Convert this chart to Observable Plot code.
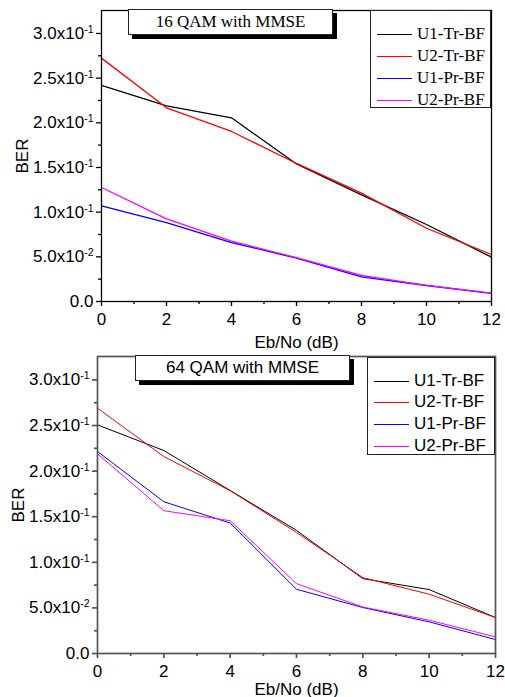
<!DOCTYPE html>
<html>
<head>
<meta charset="utf-8">
<script src="https://cdn.jsdelivr.net/npm/d3@7"></script>
<script src="https://cdn.jsdelivr.net/npm/@observablehq/plot@0.6"></script>
<style>
  html, body { margin: 0; padding: 0; background: #fff; }
  #wrap { position: relative; width: 505px; height: 697px; overflow: hidden; }
  .panel { position: absolute; left: 0; }
  .titlebox { position: absolute; background: #fff; border: 1px solid #222; box-shadow: 4px 4px 0 #000;
              text-align: center; box-sizing: border-box; font-size: 17px; color: #000; }
  .legend { position: absolute; background: #fff; border: 1px solid #222; box-sizing: border-box; }
  .legend .row { position: absolute; left: 0; height: 20px; display: flex; align-items: center; font-size: 17px; white-space: nowrap; }
  .legend .sw { display: inline-block; width: 35px; height: 0; margin-right: 5px; }
</style>
</head>
<body>
<div id="wrap"></div>
<script>
// ---------------- data ----------------
const ebno = [0, 2, 4, 6, 8, 10, 12];
const seriesNames = ["U1-Tr-BF", "U2-Tr-BF", "U1-Pr-BF", "U2-Pr-BF"];
const seriesColors = ["#000000", "#ff0000", "#0000ff", "#ff00ff"];

const qam16_U1Tr = [0.2420, 0.2190, 0.2056, 0.1540, 0.1194, 0.0862, 0.0496];
const qam16_U2Tr = [0.2724, 0.2168, 0.1903, 0.1545, 0.1213, 0.0820, 0.0526];
const qam16_U1Pr = [0.1071, 0.0884, 0.0660, 0.0485, 0.0276, 0.0179, 0.0090];
const qam16_U2Pr = [0.1276, 0.0925, 0.0675, 0.0490, 0.0291, 0.0180, 0.0093];

const qam64_U1Tr = [0.2507, 0.2226, 0.1788, 0.1350, 0.0821, 0.0701, 0.0394];
const qam64_U2Tr = [0.2690, 0.2160, 0.1785, 0.1328, 0.0832, 0.0650, 0.0394];
const qam64_U1Pr = [0.2215, 0.1664, 0.1431, 0.0704, 0.0504, 0.0347, 0.0153];
const qam64_U2Pr = [0.2190, 0.1566, 0.1456, 0.0766, 0.0510, 0.0365, 0.0182];

const yTicks = [0, 0.05, 0.10, 0.15, 0.20, 0.25, 0.30];
const yMinorTicks = [0.025, 0.075, 0.125, 0.175, 0.225, 0.275];
const xTicks = [0, 2, 4, 6, 8, 10, 12];
const xMinorTicks = [1, 3, 5, 7, 9, 11];

const titles = ["16 QAM with MMSE", "64 QAM with MMSE"];
const xLabel = "Eb/No (dB)";
const yLabel = "BER";

// ---------------- helpers ----------------
function sciFormat(v) {
  if (Math.abs(v) < 1e-12) return "0.0";
  const e = Math.floor(Math.log10(v) + 1e-9);
  const m = v / Math.pow(10, e);
  return m.toFixed(1) + "x10|" + e;
}

function superscriptTicks(svg) {
  svg.querySelectorAll('g[aria-label="y-axis tick label"] text').forEach(t => {
    const s = t.textContent;
    if (!s.includes("|")) return;
    const [base, exp] = s.split("|");
    while (t.firstChild) t.removeChild(t.firstChild);
    const a = document.createElementNS("http://www.w3.org/2000/svg", "tspan");
    a.textContent = base;
    const b = document.createElementNS("http://www.w3.org/2000/svg", "tspan");
    b.textContent = exp;
    b.setAttribute("font-size", "10.5");
    b.setAttribute("dy", "-6");
    t.appendChild(a); t.appendChild(b);
  });
}

function makePanel(cfg) {
  const rows = [];
  cfg.values.forEach((arr, i) => arr.forEach((v, j) => rows.push({x: ebno[j], y: v, s: seriesNames[i]})));
  const svg = Plot.plot({
    width: 505,
    height: cfg.height,
    marginTop: cfg.marginTop,
    marginLeft: cfg.marginLeft,
    marginRight: cfg.marginRight,
    marginBottom: cfg.marginBottom,
    style: {fontFamily: "'Liberation Sans', Arial, sans-serif", fontSize: "17px", color: "#000", background: "transparent", overflow: "visible"},
    x: {domain: [0, 12]},
    y: {domain: [0, 0.3257]},
    color: {domain: seriesNames, range: seriesColors},
    marks: [
      Plot.line(rows, {x: "x", y: "y", z: "s", stroke: "s", strokeWidth: cfg.lineWidth}),
      Plot.axisY({ticks: yTicks, tickSize: 5, tickPadding: 3, tickFormat: sciFormat, fontSize: 17,
                  stroke: cfg.axisColor, strokeWidth: cfg.axisWidth,
                  label: yLabel, labelAnchor: "center", labelOffset: cfg.yLabelOffset, labelArrow: "none"}),
      Plot.axisY({ticks: yMinorTicks, tickSize: 3, tickFormat: () => "", label: null,
                  stroke: cfg.axisColor, strokeWidth: cfg.axisWidth}),
      Plot.axisX({ticks: xTicks, tickSize: 5, tickPadding: 6, tickFormat: d => String(d), fontSize: 17,
                  stroke: cfg.axisColor, strokeWidth: cfg.axisWidth,
                  label: xLabel, labelAnchor: "center", labelOffset: cfg.xLabelOffset, labelArrow: "none"}),
      Plot.axisX({ticks: xMinorTicks, tickSize: 3, tickFormat: () => "", label: null,
                  stroke: cfg.axisColor, strokeWidth: cfg.axisWidth}),
      Plot.frame({stroke: cfg.axisColor, strokeWidth: cfg.axisWidth})
    ]
  });
  superscriptTicks(svg);
  return svg;
}

function addTitle(parent, text, box, font) {
  const d = document.createElement("div");
  d.className = "titlebox";
  Object.assign(d.style, {left: box[0] + "px", top: box[1] + "px", width: box[2] + "px", height: box[3] + "px",
                          lineHeight: (box[3] - 2) + "px", fontFamily: font});
  d.textContent = text;
  parent.appendChild(d);
}

function addLegend(parent, box, rowTops, font, lw) {
  const d = document.createElement("div");
  d.className = "legend";
  Object.assign(d.style, {left: box[0] + "px", top: box[1] + "px", width: box[2] + "px", height: box[3] + "px", fontFamily: font});
  seriesNames.forEach((name, i) => {
    const r = document.createElement("div");
    r.className = "row";
    r.style.top = rowTops[i] + "px";
    r.style.left = "6px";
    const sw = document.createElement("span");
    sw.className = "sw";
    sw.style.borderTop = lw + "px solid " + seriesColors[i];
    const t = document.createElement("span");
    t.textContent = name;
    r.appendChild(sw); r.appendChild(t);
    d.appendChild(r);
  });
  parent.appendChild(d);
}

// ---------------- build ----------------
const wrap = document.getElementById("wrap");

const p1 = document.createElement("div");
p1.className = "panel"; p1.style.top = "0px";
p1.appendChild(makePanel({
  values: [qam16_U1Tr, qam16_U2Tr, qam16_U1Pr, qam16_U2Pr],
  height: 350, marginTop: 10, marginLeft: 101, marginRight: 14, marginBottom: 49,
  axisColor: "#000", axisWidth: 1.3, lineWidth: 1.3, yLabelOffset: 86, xLabelOffset: 46
}));
wrap.appendChild(p1);

const p2 = document.createElement("div");
p2.className = "panel"; p2.style.top = "350px";
p2.appendChild(makePanel({
  values: [qam64_U1Tr, qam64_U2Tr, qam64_U1Pr, qam64_U2Pr],
  height: 347, marginTop: 6, marginLeft: 97, marginRight: 10, marginBottom: 44,
  axisColor: "#555", axisWidth: 1.7, lineWidth: 1, yLabelOffset: 86, xLabelOffset: 41
}));
wrap.appendChild(p2);

const serif = "'Liberation Serif', 'Times New Roman', serif";
const sans = "'Liberation Sans', Arial, sans-serif";
addTitle(wrap, titles[0], [128, 9, 205, 26], serif);
addTitle(wrap, titles[1], [135, 355, 215, 26], sans);
addLegend(wrap, [370, 10, 121, 98], [13, 35, 57, 79], serif, 1.8);
addLegend(wrap, [367, 357, 128, 98], [13, 34, 56, 78], sans, 1.2);
</script>
</body>
</html>
